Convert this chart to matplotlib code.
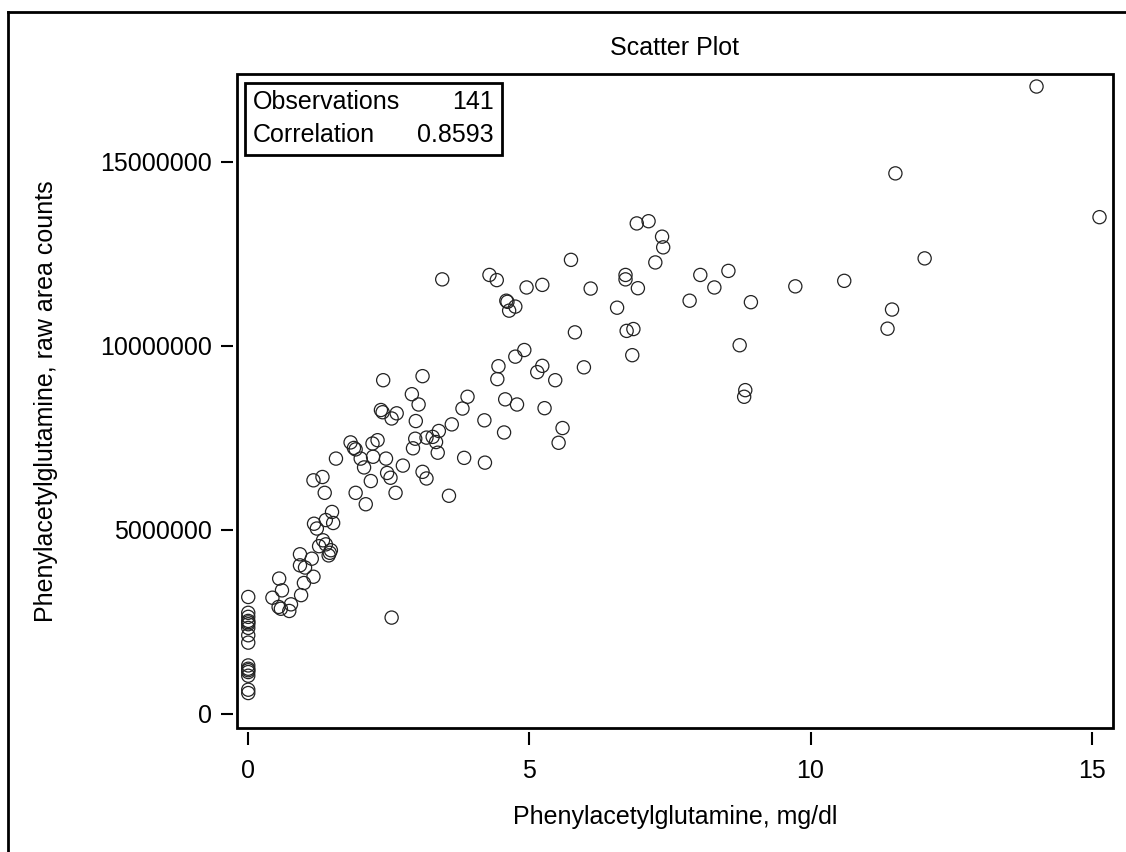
import numpy as np
import matplotlib
matplotlib.use("Agg")
import matplotlib.pyplot as plt
from matplotlib.lines import Line2D

# Phenylacetylglutamine: clinical assay (mg/dl) vs raw LC-MS area counts
conc_mgdl = [
    # zero-concentration samples
    0, 0, 0, 0, 0, 0, 0, 0, 0, 0, 0, 0, 0, 0, 0, 0,
    # low range
    0.43, 0.55, 0.60, 0.54, 0.58, 0.73, 0.76, 0.94, 0.99, 1.16, 0.92, 1.01, 1.13, 0.92,
    1.26, 1.33, 1.38, 1.47, 1.43, 1.45, 1.17, 1.22, 1.38, 1.51, 1.49, 2.09, 2.55,
    # 1.5 - 4.2
    2.40, 3.10, 2.91, 3.03, 3.90, 3.81, 4.20, 2.36, 2.39, 2.55, 2.64, 2.98, 3.62, 3.39,
    3.28, 3.17, 2.97, 3.34, 2.93, 3.37, 1.82, 1.91, 1.88, 2.21, 2.30, 2.22, 2.45, 2.00,
    2.06, 1.56, 2.75, 3.84, 4.21, 2.47, 2.53, 3.10, 3.17, 2.18, 1.16, 1.32, 1.36, 1.91,
    2.62, 3.57,
    # 3.4 - 6.1
    3.45, 4.29, 4.42, 4.95, 5.23, 5.74, 6.09, 4.59, 4.61, 4.75, 4.64, 5.81, 4.91, 4.75,
    5.97, 4.45, 4.43, 5.23, 5.14, 5.46, 4.57, 4.78, 5.27, 4.55, 5.59, 5.52,
    # 6.5 - 10
    6.91, 7.12, 7.36, 7.38, 7.24, 6.71, 6.71, 6.93, 6.56, 6.73, 6.85, 6.83, 8.04, 8.54,
    8.29, 7.85, 8.94, 9.73, 8.74, 8.84, 8.82,
    # high range
    14.02, 11.51, 15.14, 12.03, 10.60, 11.45, 11.37,
]

area_millions = [
    3.17, 2.74, 2.63, 2.52, 2.48, 2.43, 2.33, 2.13, 1.93, 1.31, 1.22, 1.18, 1.13, 1.03, 0.65, 0.56,
    3.15, 3.67, 3.35, 2.90, 2.85, 2.79, 2.97, 3.22, 3.55, 3.72, 4.03, 3.97, 4.21, 4.33,
    4.55, 4.71, 4.60, 4.44, 4.30, 4.37, 5.16, 5.03, 5.26, 5.18, 5.48, 5.69, 2.61,
    9.06, 9.17, 8.68, 8.40, 8.61, 8.29, 7.97, 8.25, 8.19, 8.02, 8.16, 7.95, 7.86, 7.68,
    7.52, 7.50, 7.47, 7.38, 7.21, 7.09, 7.37, 7.18, 7.22, 7.34, 7.43, 6.98, 6.93, 6.93,
    6.69, 6.93, 6.74, 6.95, 6.82, 6.54, 6.41, 6.57, 6.39, 6.32, 6.34, 6.43, 6.00, 6.00,
    6.00, 5.92,
    11.80, 11.92, 11.78, 11.58, 11.65, 12.33, 11.55, 11.22, 11.19, 11.06, 10.95, 10.36, 9.88, 9.70,
    9.41, 9.44, 9.09, 9.45, 9.28, 9.06, 8.54, 8.40, 8.30, 7.64, 7.76, 7.36,
    13.32, 13.38, 12.96, 12.67, 12.26, 11.92, 11.80, 11.56, 11.03, 10.40, 10.45, 9.74, 11.92, 12.03,
    11.58, 11.22, 11.18, 11.61, 10.01, 8.79, 8.61,
    17.04, 14.68, 13.49, 12.37, 11.76, 10.98, 10.46,
]

x_ticks = [0, 5, 10, 15]
y_ticks = [0, 5000000, 10000000, 15000000]
stats_labels = ["Observations", "Correlation"]
stats_values = ["141", "0.8593"]

plt.rcParams['font.family'] = ['Liberation Sans', 'DejaVu Sans']
FS = 18

W, H = 1126, 852
fig = plt.figure(figsize=(W / 100, H / 100), dpi=100)

# axes box in pixel coords: left 237, right 1113, top 74, bottom 728
ax = fig.add_axes([237 / W, 1 - 728 / H, (1113 - 237) / W, (728 - 74) / H])

x = np.array(conc_mgdl)
y = np.array(area_millions) * 1e6
ax.scatter(x, y, s=90, facecolors='none', edgecolors='#222222', linewidths=0.9, zorder=3)

ax.set_xlim(-0.2, 15.38)
ax.set_ylim(-0.39e6, 17.38e6)
ax.set_xticks(x_ticks)
ax.set_xticklabels([str(t) for t in x_ticks])
ax.set_yticks(y_ticks)
ax.set_yticklabels([str(t) for t in y_ticks])

# frame drawn by the patch, ticks sit a little away from it
ax.patch.set_edgecolor('black')
ax.patch.set_linewidth(2.0)
for side in ['top', 'right']:
    ax.spines[side].set_visible(False)
for side in ['left', 'bottom']:
    ax.spines[side].set_position(('outward', 3))
    ax.spines[side].set_visible(False)
ax.tick_params(axis='both', direction='out', length=9, width=1.5, labelsize=FS, color='black')
ax.tick_params(axis='x', pad=10)
ax.tick_params(axis='y', pad=6)

ax.set_xlabel('Phenylacetylglutamine, mg/dl', fontsize=FS, labelpad=16)
ax.set_ylabel('Phenylacetylglutamine, raw area counts', fontsize=FS, labelpad=30)
ax.set_title('Scatter Plot', fontsize=FS, pad=14)

# statistics inset
box = plt.Rectangle((245 / W, 1 - 155 / H), (502 - 245) / W, (155 - 83) / H,
                    transform=fig.transFigure, fill=False, edgecolor='black', linewidth=2.0)
fig.add_artist(box)
for i, (lab, val) in enumerate(zip(stats_labels, stats_values)):
    ypix = 102 + i * 33
    fig.text(253 / W, 1 - ypix / H, lab, fontsize=FS, ha='left', va='center')
    fig.text(494 / W, 1 - ypix / H, val, fontsize=FS, ha='right', va='center')

# outer frame (cut off at the right and bottom edges)
fig.add_artist(Line2D([8 / W, 8 / W], [0, 1 - 12 / H], transform=fig.transFigure, color='black', lw=2))
fig.add_artist(Line2D([8 / W, 1], [1 - 12 / H, 1 - 12 / H], transform=fig.transFigure, color='black', lw=2))

fig.savefig('out.png', dpi=100)
